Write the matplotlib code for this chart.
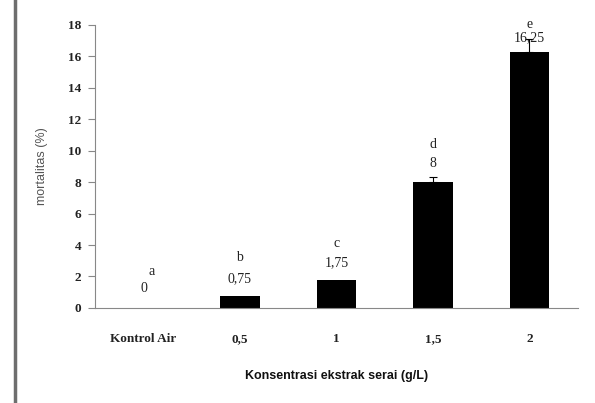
import matplotlib
matplotlib.use("Agg")
import matplotlib.pyplot as plt
from matplotlib.lines import Line2D

categories = ["Kontrol Air", "0,5", "1", "1,5", "2"]
mortality = [0, 0.75, 1.75, 8, 16.25]
errors = [0, 0, 0, 0.35, 0.85]
value_labels = ["0", "0,75", "1,75", "8", "16,25"]
letters = ["a", "b", "c", "d", "e"]
value_label_y = [1.25, 1.85, 2.85, 9.2, 17.2]
letter_y = [2.3, 3.2, 4.1, 10.4, 18.05]

serif = "Liberation Serif"
sans = "Liberation Sans"

fig = plt.figure(figsize=(5.95, 4.03), dpi=100)
ax = fig.add_axes([0.160, 0.236, 0.811, 0.702])

x = list(range(len(categories)))
ax.bar(x, mortality, width=0.41, color="black", zorder=2)

# only the bars that have a visible error bar
err_x = [i for i in x if errors[i] > 0]
ax.errorbar(err_x, [mortality[i] for i in err_x],
            yerr=[[0] * len(err_x), [errors[i] for i in err_x]], fmt="none",
            ecolor="black", elinewidth=0.8, capsize=3, capthick=0.8, zorder=3)

for i in x:
    dx = 0.08 if i == 0 else 0.0
    ax.text(i, value_label_y[i], value_labels[i], ha="center", va="center",
            family=serif, fontsize=10, color="#222222")
    ax.text(i + dx, letter_y[i], letters[i], ha="center", va="center",
            family=serif, fontsize=10, color="#222222")

ax.set_xlim(-0.5, 4.5)
ax.set_ylim(0, 18)
ax.set_yticks(range(0, 19, 2))
ax.set_xticks(x)
ax.set_xticklabels(categories)

for lab in ax.get_xticklabels() + ax.get_yticklabels():
    lab.set_family(serif)
    lab.set_fontsize(9.5)
    lab.set_fontweight("bold")
    lab.set_color("#222222")

ax.tick_params(axis="x", length=0, pad=18)
ax.tick_params(axis="y", length=5, width=0.8, color="#888888", pad=5)

for side in ["top", "right"]:
    ax.spines[side].set_visible(False)
for side in ["left", "bottom"]:
    ax.spines[side].set_color("#888888")
    ax.spines[side].set_linewidth(0.8)

ax.set_ylabel("mortalitas (%)", family=sans, fontsize=9, color="#555555", labelpad=14)
ax.set_xlabel("Konsentrasi ekstrak serai (g/L)", family=sans, fontsize=9,
              fontweight="bold", color="#111111", labelpad=18)

# thick grey border at the left edge of the image
fig.add_artist(Line2D([0.026, 0.026], [0.0, 1.0], transform=fig.transFigure,
                      color="#6e6e6e", linewidth=2.5))

fig.savefig("out.png", dpi=100)
